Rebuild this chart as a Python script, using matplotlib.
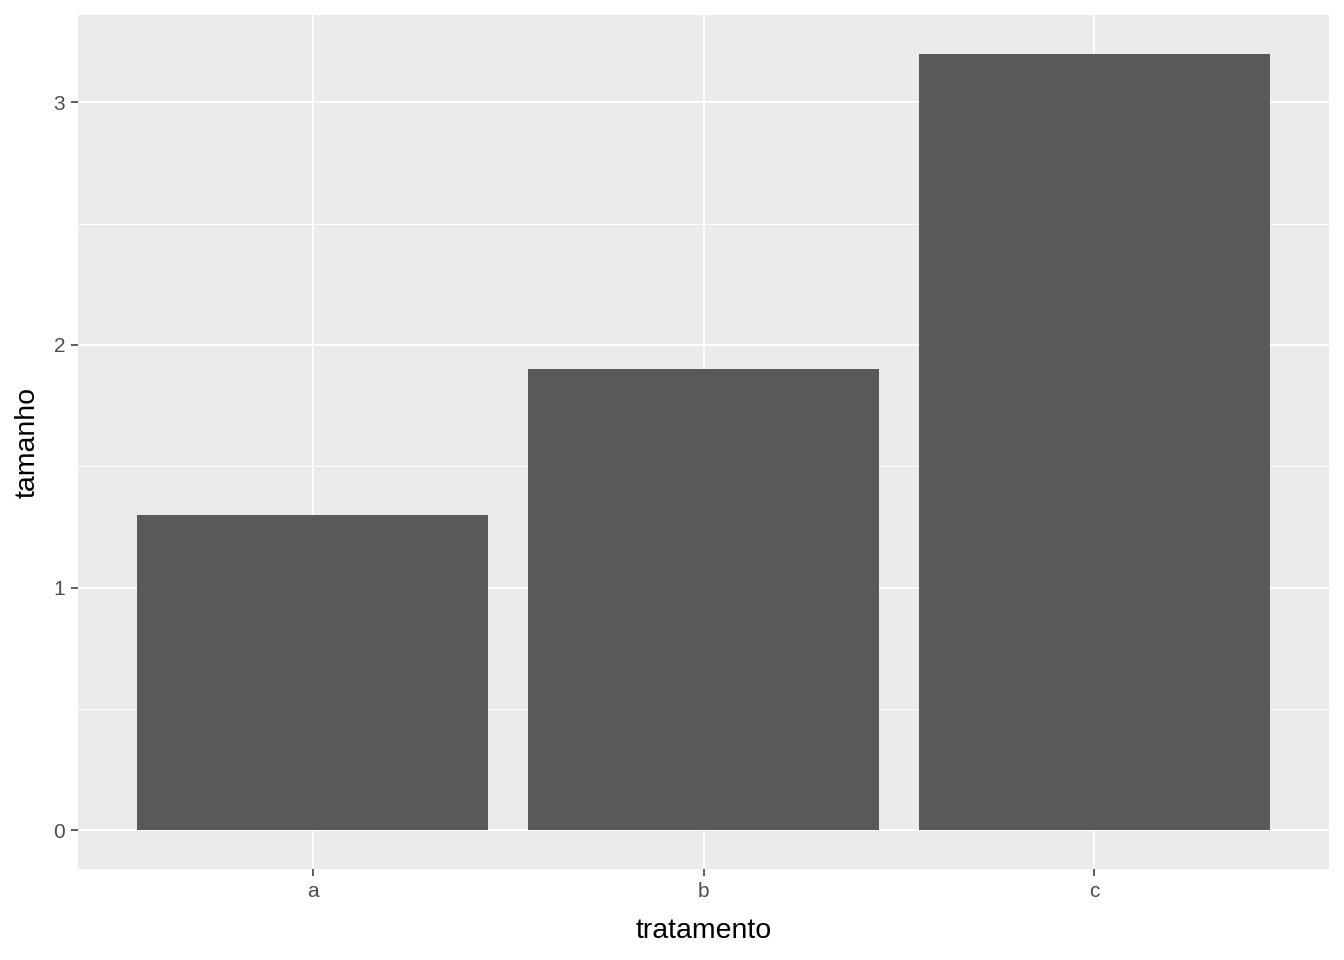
import matplotlib.pyplot as plt
import numpy as np

tratamento = ['a', 'b', 'c']
tamanho = [1.3, 1.9, 3.2]
y_ticks = [0, 1, 2, 3]
y_minor = [0.5, 1.5, 2.5]

plt.rcParams['font.family'] = ['Liberation Sans', 'DejaVu Sans']

fig = plt.figure(figsize=(13.44, 9.6), dpi=100)
ax = fig.add_axes([78 / 1344, 1 - 869 / 960, (1329 - 78) / 1344, (869 - 15) / 960])
ax.set_facecolor('#EBEBEB')

x = np.arange(len(tratamento))
ax.set_axisbelow(True)
ax.bar(x, tamanho, width=0.9, color='#595959', zorder=3)

ax.set_xlim(-0.6, 2.6)
ax.set_ylim(-0.05 * max(tamanho), 1.05 * max(tamanho))
ax.set_xticks(x)
ax.set_xticklabels(tratamento)
ax.set_yticks(y_ticks)
ax.set_yticks(y_minor, minor=True)

ax.grid(which='major', color='white', linewidth=1.5)
ax.grid(which='minor', axis='y', color='white', linewidth=0.75)
for s in ax.spines.values():
    s.set_visible(False)

ax.tick_params(axis='both', which='major', length=5.3, width=1.1, color='#333333',
               labelsize=15, labelcolor='#4D4D4D', pad=4)
ax.tick_params(axis='both', which='minor', length=0)

ax.set_xlabel('tratamento', fontsize=20.5, color='black', labelpad=12)
ax.set_ylabel('tamanho', fontsize=20.5, color='black', labelpad=9)

fig.savefig('out.png', dpi=100)
